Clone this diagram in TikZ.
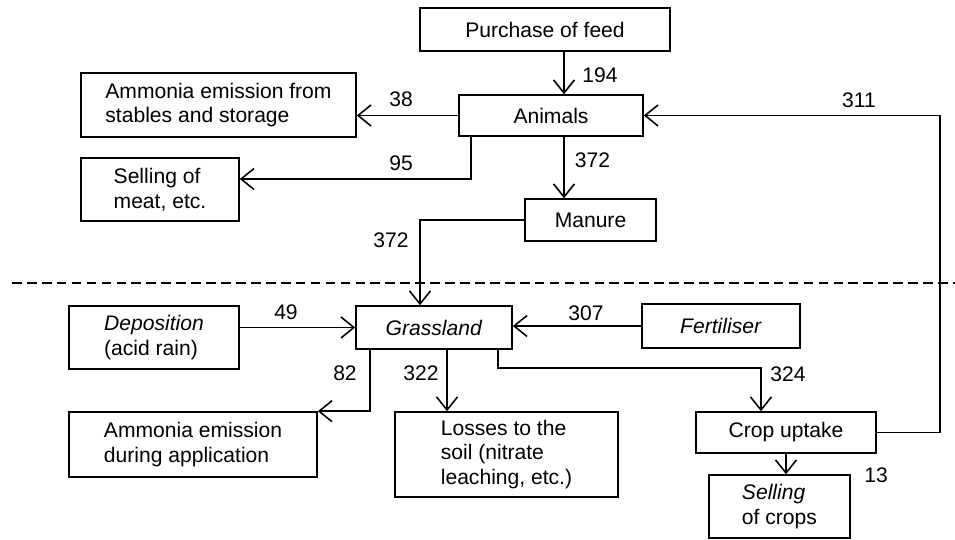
\documentclass[tikz,border=0pt]{standalone}
\usepackage{fontspec}
\setmainfont{Liberation Sans}
\usetikzlibrary{arrows.meta}

\begin{document}
\begin{tikzpicture}[
  box/.style={draw, line width=0.9pt, inner sep=0pt, align=left, font=\fontsize{12}{14}\selectfont},
  flow/.style={line width=0.9pt, -{Straight Barb[length=2.6mm, width=4.2mm]}},
  num/.style={inner sep=0pt, font=\fontsize{12}{14}\selectfont}
]
\useasboundingbox (0,0) rectangle (19.1,10.8);

\node[box, minimum width=5cm, minimum height=0.86cm] (feed) at (10.9,10.21) {Purchase of feed};
\node[box, minimum width=3.68cm, minimum height=0.82cm] (animals) at (11.02,8.49) {Animals};
\node[box, minimum width=5.5cm, minimum height=1.28cm] (ammst) at (4.37,8.7) {Ammonia emission from\\stables and storage};
\node[box, minimum width=3.16cm, minimum height=1.26cm] (meat) at (3.2,7.01) {Selling of\\meat, etc.};
\node[box, minimum width=2.62cm, minimum height=0.84cm] (manure) at (11.81,6.4) {Manure};
\node[box, minimum width=3.12cm, minimum height=0.86cm] (grass) at (8.68,4.25) {\textit{Grassland}};
\node[box, minimum width=3.4cm, minimum height=1.26cm] (depos) at (3.08,4.05) {\textit{Deposition}\\(acid rain)};
\node[box, minimum width=3.16cm, minimum height=0.88cm] (fert) at (14.42,4.28) {\textit{Fertiliser}};
\node[box, minimum width=4.96cm, minimum height=1.3cm] (ammapp) at (3.86,1.91) {Ammonia emission\\during application};
\node[box, minimum width=4.46cm, minimum height=1.7cm] (losses) at (10.13,1.71) {Losses to the\\soil (nitrate\\leaching, etc.)};
\node[box, minimum width=3.6cm, minimum height=0.82cm] (crop) at (15.72,2.15) {Crop uptake};
\node[box, minimum width=2.82cm, minimum height=1.26cm] (sellcrop) at (15.59,0.67) {\textit{Selling}\\of crops};

\coordinate (feedx) at (11.28,0);
\coordinate (meatturn) at (9.42,7.22);
\coordinate (manx) at (8.4,0);
\coordinate (backx) at (18.8,0);
\coordinate (ammx) at (7.4,0);
\coordinate (lossx) at (8.94,0);
\coordinate (cropturn) at (9.96,3.44);
\coordinate (cropx) at (15.22,0);

\draw[line width=0.9pt, dash pattern=on 5.5pt off 3pt] (0.24,5.14) -- (19.1,5.14);

\draw[flow] (feed.south -| feedx) -- (animals.north -| feedx);
\draw[flow] (animals.west) -- (animals.west -| ammst.east);
\draw[flow] (animals.south -| meatturn) -- (meatturn) -- (meatturn -| meat.east);
\draw[flow] (animals.south -| feedx) -- (manure.north -| feedx);
\draw[flow] (manure.west) -| (grass.north -| manx);
\draw[flow] (crop.east) -| (animals.east -| backx) -- (animals.east);
\draw[flow] (depos.east |- grass.west) -- (grass.west);
\draw[flow] (fert.west) -- (fert.west -| grass.east);
\draw[flow] (grass.south -| ammx) |- (ammapp.north east);
\draw[flow] (grass.south -| lossx) -- (losses.north -| lossx);
\draw[flow] (grass.south -| cropturn) -- (cropturn) -| (crop.north -| cropx);
\draw[flow] (crop.south) -- (crop.south |- sellcrop.north);

\node[num] (n194) at (12.0,9.3) {194};
\node[num] (n38) at (8.02,8.82) {38};
\node[num] (n95) at (8.02,7.54) {95};
\node[num] (n372a) at (11.85,7.6) {372};
\node[num] (n372b) at (7.82,6.0) {372};
\node[num] (n311) at (17.18,8.8) {311};
\node[num] (n49) at (5.72,4.56) {49};
\node[num] (n307) at (11.72,4.54) {307};
\node[num] (n82) at (6.9,3.34) {82};
\node[num] (n322) at (8.42,3.34) {322};
\node[num] (n324) at (15.76,3.32) {324};
\node[num] (n13) at (17.52,1.3) {13};

\end{tikzpicture}
\end{document}
